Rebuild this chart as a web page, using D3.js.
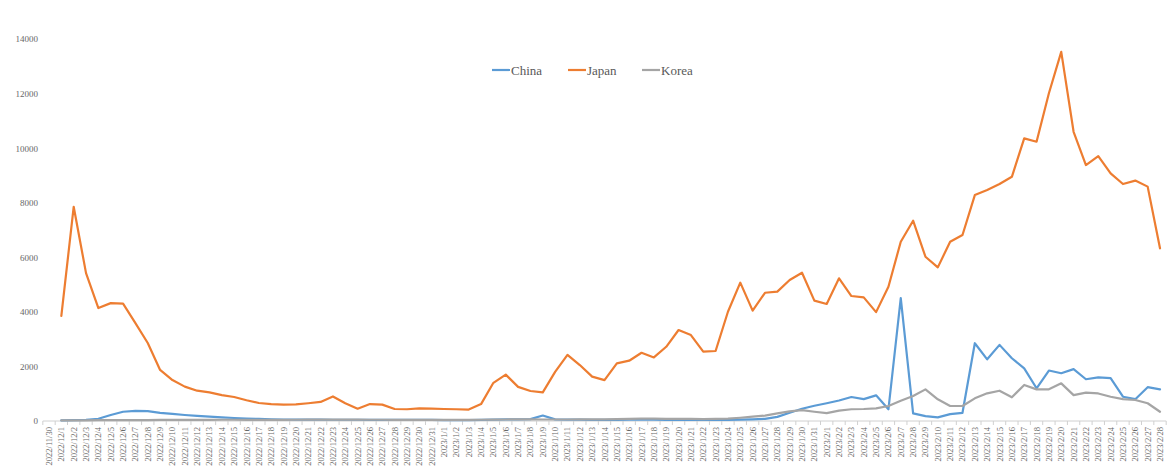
<!DOCTYPE html>
<html>
<head>
<meta charset="utf-8">
<script src="https://cdn.jsdelivr.net/npm/d3@7"></script>
<style>
  html, body { margin: 0; padding: 0; background: #ffffff; }
  svg { display: block; }
  text { font-family: "Liberation Serif", "Times New Roman", serif; }
</style>
</head>
<body>
<svg id="chart" width="1172" height="468"></svg>
<script>
// Daily categories (first day has no recorded values)
const dates = [
  "2022/11/30",
  "2022/12/1","2022/12/2","2022/12/3","2022/12/4","2022/12/5","2022/12/6","2022/12/7","2022/12/8","2022/12/9","2022/12/10",
  "2022/12/11","2022/12/12","2022/12/13","2022/12/14","2022/12/15","2022/12/16","2022/12/17","2022/12/18","2022/12/19","2022/12/20",
  "2022/12/21","2022/12/22","2022/12/23","2022/12/24","2022/12/25","2022/12/26","2022/12/27","2022/12/28","2022/12/29","2022/12/30","2022/12/31",
  "2023/1/1","2023/1/2","2023/1/3","2023/1/4","2023/1/5","2023/1/6","2023/1/7","2023/1/8","2023/1/9","2023/1/10",
  "2023/1/11","2023/1/12","2023/1/13","2023/1/14","2023/1/15","2023/1/16","2023/1/17","2023/1/18","2023/1/19","2023/1/20",
  "2023/1/21","2023/1/22","2023/1/23","2023/1/24","2023/1/25","2023/1/26","2023/1/27","2023/1/28","2023/1/29","2023/1/30","2023/1/31",
  "2023/2/1","2023/2/2","2023/2/3","2023/2/4","2023/2/5","2023/2/6","2023/2/7","2023/2/8","2023/2/9","2023/2/10",
  "2023/2/11","2023/2/12","2023/2/13","2023/2/14","2023/2/15","2023/2/16","2023/2/17","2023/2/18","2023/2/19","2023/2/20",
  "2023/2/21","2023/2/22","2023/2/23","2023/2/24","2023/2/25","2023/2/26","2023/2/27","2023/2/28"
];

const china = [
  null,
  20, 30, 40, 80, 220, 340, 370, 360, 300, 260,
  220, 185, 160, 130, 110, 90, 75, 65, 55, 50,
  50, 50, 45, 45, 45, 40, 40, 40, 40, 40, 40,
  30, 30, 30, 40, 50, 60, 60, 70, 200, 60,
  50, 50, 40, 40, 40, 50, 50, 50, 40, 40,
  40, 40, 40, 40, 50, 60, 80, 150, 300, 450,
  560, 650, 750, 880, 800, 940, 430, 4500, 280, 180,
  135, 250, 300, 2850, 2260, 2790, 2300, 1930, 1200, 1850,
  1750, 1900, 1530, 1600, 1570, 890, 800, 1240, 1160
];

const japan = [
  null,
  3850, 7850, 5420, 4140, 4320, 4300, 3590, 2860, 1870, 1500,
  1260, 1110, 1050, 950, 880, 760, 660, 620, 600, 610,
  650, 700, 900, 650, 450, 620, 600, 440, 430, 460, 450,
  440, 430, 420, 620, 1400, 1700, 1250, 1100, 1050, 1800,
  2420, 2050, 1625, 1500, 2110, 2210, 2500, 2330, 2720, 3335,
  3150, 2540, 2565, 4005, 5070, 4045, 4700, 4740, 5165, 5435,
  4410, 4290, 5230, 4580, 4530, 3990, 4920, 6570, 7340, 6020,
  5630, 6570, 6815, 8280, 8465, 8685, 8950, 10360, 10235, 12010,
  13530, 10600, 9380, 9710, 9075, 8685, 8810, 8590, 6330
];

const korea = [
  null,
  20, 20, 25, 30, 30, 30, 35, 35, 40, 40,
  40, 40, 40, 45, 45, 40, 40, 40, 40, 45,
  50, 50, 55, 50, 50, 45, 45, 40, 40, 40, 40,
  40, 40, 40, 45, 50, 55, 60, 60, 55, 55,
  55, 60, 60, 60, 70, 80, 90, 90, 80, 80,
  75, 70, 80, 90, 120, 160, 200, 280, 350, 400,
  340, 290, 380, 430, 440, 465, 550, 745, 915, 1160,
  795, 550, 550, 830, 1015, 1110, 870, 1320, 1160, 1160,
  1380, 950, 1040, 1010, 890, 800, 770, 650, 340
];

const yTicks = [0, 2000, 4000, 6000, 8000, 10000, 12000, 14000];

const seriesList = [
  { name: "China", values: china, color: "#5B9BD5" },
  { name: "Japan", values: japan, color: "#ED7D31" },
  { name: "Korea", values: korea, color: "#A5A5A5" }
];

const svg = d3.select("#chart");

const x = d3.scalePoint().domain(dates).range([49, 1160]);
const y = d3.scaleLinear().domain([0, 14000]).range([421, 39]);

// Value axis: labels only
const yAxis = svg.append("g")
  .attr("transform", "translate(41,0)")
  .call(d3.axisLeft(y).tickValues(yTicks).tickSize(0).tickPadding(3).tickFormat(d3.format("d")));
yAxis.select(".domain").remove();
yAxis.selectAll("text")
  .attr("fill", "#666666")
  .style("font-size", "9px")
  .style("font-family", "'Liberation Serif', serif");

// Category axis line with tick marks between categories
const step = x.step();
const x0 = x(dates[0]) - step / 2;
const x1 = x(dates[dates.length - 1]) + step / 2;
svg.append("line")
  .attr("x1", x0).attr("x2", x1)
  .attr("y1", y(0)).attr("y2", y(0))
  .attr("stroke", "#d0d0d0").attr("stroke-width", 1);
svg.append("g").selectAll("line")
  .data(d3.range(dates.length + 1))
  .join("line")
  .attr("x1", i => x0 + i * step).attr("x2", i => x0 + i * step)
  .attr("y1", y(0)).attr("y2", y(0) + 4)
  .attr("stroke", "#d0d0d0").attr("stroke-width", 1);

// Rotated date labels
svg.append("g").selectAll("text")
  .data(dates)
  .join("text")
  .attr("transform", d => `translate(${x(d) + 3},${y(0) + 6}) rotate(-90)`)
  .attr("text-anchor", "end")
  .attr("fill", "#666666")
  .style("font-size", "8.5px")
  .text(d => d);

// Series lines
const line = d3.line()
  .defined(v => v !== null)
  .x((v, i) => x(dates[i]))
  .y(v => y(v));

svg.append("g").selectAll("path")
  .data(seriesList)
  .join("path")
  .attr("d", s => line(s.values))
  .attr("fill", "none")
  .attr("stroke", s => s.color)
  .attr("stroke-width", 2.2)
  .attr("stroke-linejoin", "round")
  .attr("stroke-linecap", "round");

// Legend
const legendX = [492, 568, 642];
const legend = svg.append("g").selectAll("g")
  .data(seriesList)
  .join("g")
  .attr("transform", (s, i) => `translate(${legendX[i]},70)`);
legend.append("line")
  .attr("x1", 0).attr("x2", 18)
  .attr("y1", 0).attr("y2", 0)
  .attr("stroke", s => s.color)
  .attr("stroke-width", 2.2);
legend.append("text")
  .attr("x", 19).attr("y", 0)
  .attr("dy", "0.35em")
  .attr("fill", "#595959")
  .style("font-size", "13px")
  .text(s => s.name);
</script>
</body>
</html>
